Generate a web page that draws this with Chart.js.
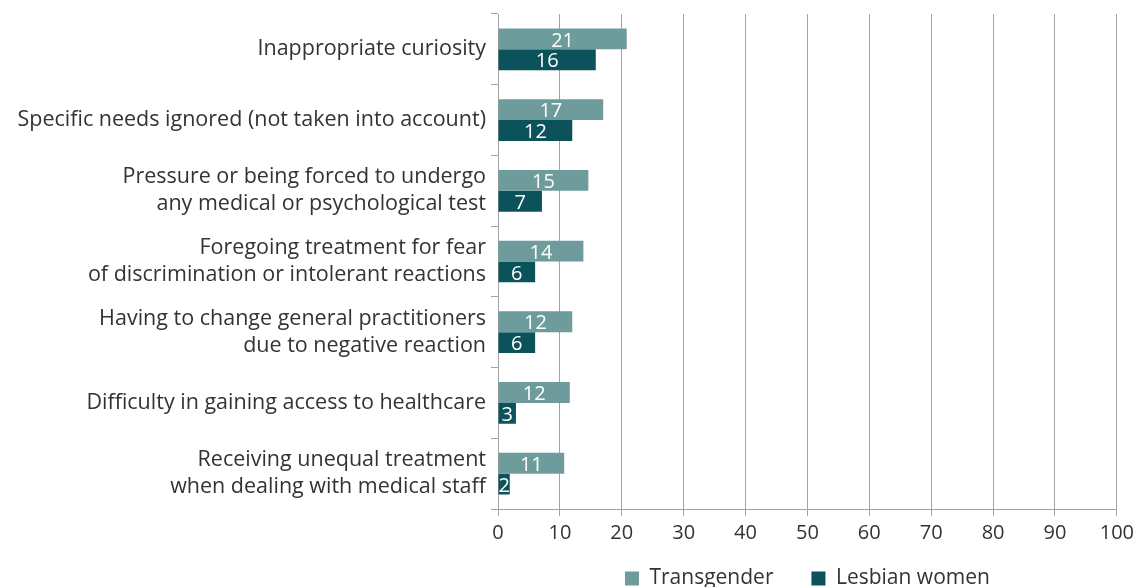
<!DOCTYPE html>
<html>
<head>
<meta charset="utf-8">
<script src="https://cdn.jsdelivr.net/npm/chart.js@4/dist/chart.umd.min.js"></script>
<style>
  html, body { margin: 0; padding: 0; background: #fff; }
  #wrap { width: 1139px; height: 587px; position: relative; }
</style>
</head>
<body>
<div id="wrap"><canvas id="chart"></canvas></div>
<script>
// categories, top to bottom
const categories = [
    'Inappropriate curiosity',
    'Specific needs ignored (not taken into account)',
    ['Pressure or being forced to undergo', 'any medical or psychological test'],
    ['Foregoing treatment for fear', 'of discrimination or intolerant reactions'],
    ['Having to change general practitioners', 'due to negative reaction'],
    'Difficulty in gaining access to healthcare',
    ['Receiving unequal treatment', 'when dealing with medical staff']
];

const transgender = [20.8, 17.0, 14.6, 13.8, 12.0, 11.6, 10.7];
const lesbianWomen = [15.8, 12.0, 7.1, 6.0, 6.0, 2.9, 1.9];

const xTicks = [0, 10, 20, 30, 40, 50, 60, 70, 80, 90, 100];

const FONT = '"Open Sans", "Noto Sans", sans-serif';
const TEXT = '#333333';
const GRID = '#a3a3a3';
const LEGEND_SPACE = 38;

// value labels inside the bars
const barLabels = {
    id: 'barLabels',
    afterDatasetsDraw(chart) {
        const ctx = chart.ctx;
        ctx.save();
        ctx.font = '20px ' + FONT;
        ctx.fillStyle = '#ffffff';
        ctx.textBaseline = 'middle';
        chart.data.datasets.forEach((ds, i) => {
            chart.getDatasetMeta(i).data.forEach((bar, j) => {
                const txt = String(Math.round(ds.data[j]));
                const w = ctx.measureText(txt).width;
                const left = Math.min(bar.base, bar.x);
                const len = Math.abs(bar.x - bar.base);
                let x;
                if (w + 2 <= len) {
                    ctx.textAlign = 'center';
                    x = left + len / 2;
                } else {
                    ctx.textAlign = 'left';
                    x = left;
                }
                ctx.fillText(txt, x, bar.y + 2);
            });
        });
        ctx.restore();
    }
};

// keep the legend's reserved height small, centre it over the plot area
const legendShift = {
    id: 'legendShift',
    beforeLayout(chart) {
        const lg = chart.legend;
        if (!lg || lg._fixedFit) return;
        const orig = lg.fit;
        lg.fit = function() {
            orig.apply(this, arguments);
            this.height = LEGEND_SPACE;
        };
        lg._fixedFit = true;
    },
    beforeDraw(chart) {
        const lg = chart.legend;
        if (!lg) return;
        lg.left = chart.chartArea.left;
        lg.right = chart.chartArea.right;
        lg.width = lg.right - lg.left;
        const pad = lg.options.labels.padding;
        lg.top = 581 - pad - 13;
        lg.bottom = chart.height;
        lg.height = lg.bottom - lg.top;
    }
};

const ctx = document.getElementById('chart');
new Chart(ctx, {
    type: 'bar',
    data: {
        labels: categories,
        datasets: [{
            label: 'Transgender',
            data: transgender,
            backgroundColor: '#6e9b9c',
            categoryPercentage: 0.59,
            barPercentage: 1
        }, {
            label: 'Lesbian women',
            data: lesbianWomen,
            backgroundColor: '#0b525a',
            categoryPercentage: 0.59,
            barPercentage: 1
        }]
    },
    options: {
        indexAxis: 'y',
        responsive: true,
        maintainAspectRatio: false,
        animation: false,
        layout: {
            padding: { top: 14, right: 20, bottom: 0, left: 0 }
        },
        scales: {
            x: {
                min: 0,
                max: 100,
                afterBuildTicks(scale) {
                    scale.ticks = xTicks.map(v => ({ value: v }));
                },
                grid: {
                    color: GRID,
                    lineWidth: 1,
                    drawTicks: true,
                    tickLength: 7
                },
                border: { display: true, color: GRID },
                ticks: {
                    color: TEXT,
                    font: { family: FONT, size: 20 },
                    padding: 5,
                    maxRotation: 0
                },
                afterFit(scale) { scale.height = 40; }
            },
            y: {
                grid: {
                    offset: true,
                    drawOnChartArea: false,
                    drawTicks: true,
                    tickLength: 7,
                    color: GRID
                },
                border: { display: true, color: GRID },
                ticks: {
                    color: TEXT,
                    font: { family: FONT, size: 21.5, lineHeight: 1.26 },
                    padding: 5,
                    autoSkip: false
                },
                afterFit(scale) {
                    scale.width = 498;
                    scale.paddingTop = 0;
                    scale.paddingBottom = 0;
                }
            }
        },
        plugins: {
            legend: {
                position: 'bottom',
                labels: {
                    color: TEXT,
                    font: { family: FONT, size: 21 },
                    boxWidth: 14,
                    boxHeight: 14,
                    padding: 38
                }
            },
            tooltip: { enabled: false }
        }
    },
    plugins: [barLabels, legendShift]
});
</script>
</body>
</html>
